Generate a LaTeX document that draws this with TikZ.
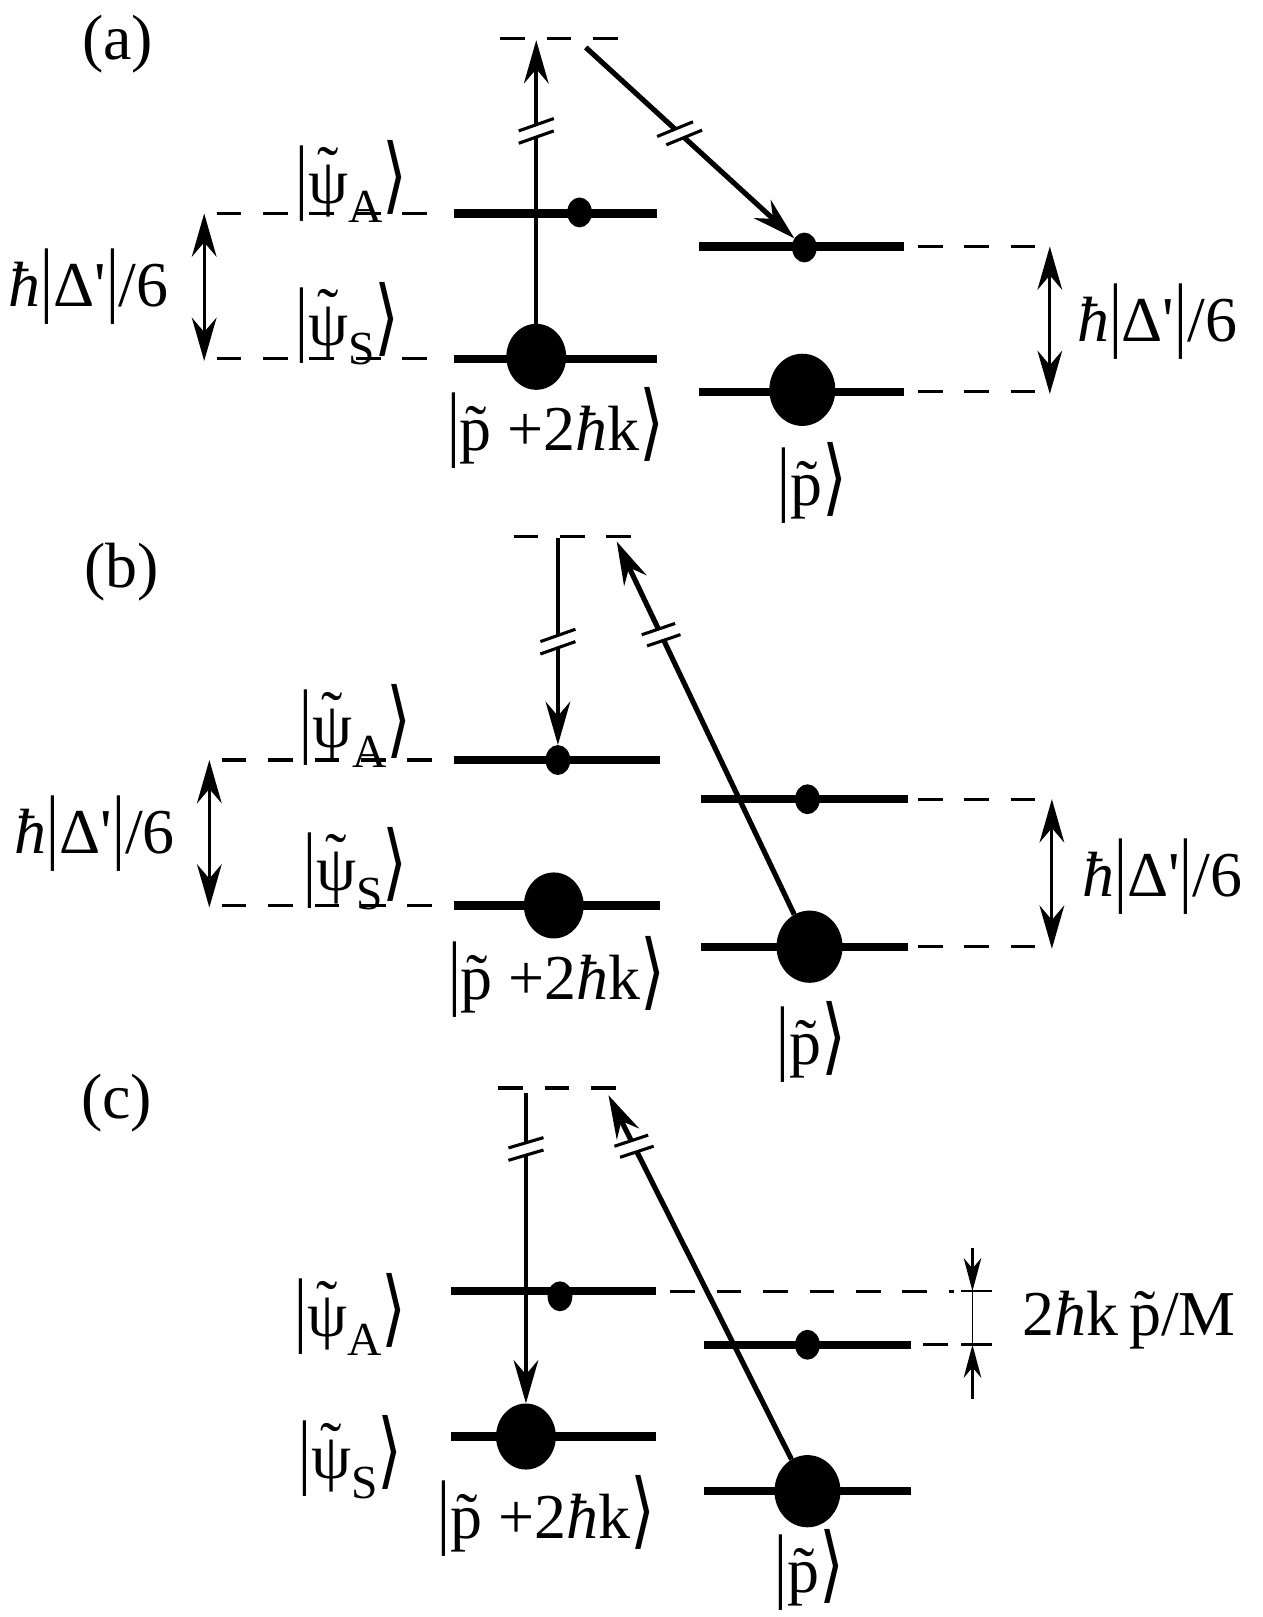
\documentclass[tikz,border=0pt]{standalone}
\usepackage{graphicx}
\usepackage{fontspec}
\setmainfont{Liberation Serif}
\newfontfamily\dvfont{DejaVu Sans}
\usetikzlibrary{arrows.meta,decorations.markings,shapes.geometric}
\newcommand{\tildeover}[2]{\ooalign{#1\cr\hidewidth\raisebox{#2}{˜}\hidewidth\cr}}
\newcommand{\ptil}{p̃}
\newcommand{\psitil}{\tildeover{ψ}{0.2em}}
\newcommand{\hb}{{\itshape ħ}}
\newcommand{\vb}{\scalebox{1}[1.3]{|}}
\newcommand{\rk}{\scalebox{1}[1.3]{\dvfont ⟩}}
\newcommand{\sbs}[1]{\raisebox{-0.3em}{\fontsize{46}{46}\selectfont #1}}
\newcommand{\ketA}{\vb\psitil\sbs{A}\rk}
\newcommand{\ketS}{\vb\psitil\sbs{S}\rk}
\newcommand{\ketPk}{\vb\ptil\ +2\hb k\rk}
\newcommand{\ketP}{\vb\ptil\rk}
\newcommand{\gaplab}{\hb\vb Δ\textquotesingle\vb/6}
\begin{document}
\begin{tikzpicture}[x=1pt,y=-1pt,
  every node/.style={font=\fontsize{62}{66}\selectfont, inner sep=0pt},
  lvl/.style={line width=8pt},
  dsh/.style={line width=3pt, dash pattern=on 24pt off 21pt},
  bigdot/.style={ellipse, fill, minimum width=58pt, minimum height=64pt, inner sep=0pt},
  rbigdot/.style={bigdot, minimum width=64pt, minimum height=70pt},
  smalldot/.style={ellipse, fill, minimum width=24pt, minimum height=29pt, inner sep=0pt},
  bigtip/.tip={Stealth[length=42pt,width=24pt,inset=14pt]},
  varr/.style={line width=3.5pt, -bigtip},
  darr/.style={line width=5pt, -bigtip},
  dbl/.style={line width=3pt, bigtip-bigtip},
  smarr/.style={line width=2.5pt, -{Stealth[length=32pt,width=17pt,inset=10pt]}},
  brk/.style 2 args={postaction={decorate,decoration={markings,mark=at position #1 with {
     \fill[white] ({-6-#2/3},-6) -- ({6-#2/3},-6) -- ({6+#2/3},6) -- ({-6+#2/3},6) -- cycle;
     \draw[-, line width=3pt] ({-6-#2},-17) -- ({-6+#2},17);
     \draw[-, line width=3pt] ({6-#2},-17) -- ({6+#2},17);}}}},
]
\fill[white] (0,0) rectangle (1224,1568);
\useasboundingbox (0,0) rectangle (1224,1568);

% ---------------- panel (a)
\node (la) at (114,43) {(a)};
\coordinate (ta1) at (485,37); \coordinate (ta2) at (600,37);
\draw[dsh] (ta1) -- (ta2);
\draw[lvl] (440,207) -- (637,207);
\draw[lvl] (440,348) -- (637,348);
\draw[lvl] (678,239) -- (877,239);
\draw[lvl] (678,380) -- (877,380);
\draw[dsh] (210,207) -- (430,207);
\draw[dsh] (210,348) -- (430,348);
\draw[dsh] (890,239) -- (1012,239);
\draw[dsh] (890,380) -- (1012,380);
\node[smalldot] (dAa) at (562,206) {};
\node[bigdot] (dSa) at (520,346) {};
\node[smalldot] (rAa) at (780,240) {};
\node[rbigdot] (rSa) at (778,378) {};
\coordinate (va) at (520,39);
\draw[varr, brk={0.68}{6}] (dSa.north) -- (va);
\coordinate (sa) at (568,46);
\draw[darr, brk={0.45}{-8}] (sa) -- (rAa);
\coordinate (gla1) at (198,207); \coordinate (gla2) at (198,350);
\draw[dbl] (gla1) -- (gla2);
\coordinate (gra1) at (1018,239); \coordinate (gra2) at (1018,382);
\draw[dbl] (gra1) -- (gra2);
\node (lga) at (86,278) {\gaplab};
\node (rga) at (1122,312) {\gaplab};
\node (kAa) at (341,176) {\ketA};
\node (kSa) at (337,314) {\ketS};
\node (kPka) at (539,415) {\ketPk};
\node (kPa) at (788,468) {\ketP};

% ---------------- panel (b)
\node (lb) at (118,555) {(b)};
\coordinate (tb1) at (498,520); \coordinate (tb2) at (615,520);
\draw[dsh] (tb1) -- (tb2);
\draw[lvl] (440,737) -- (640,737);
\draw[lvl] (440,878) -- (640,878);
\draw[lvl] (680,775) -- (880,775);
\draw[lvl] (680,918) -- (880,918);
\draw[dsh] (215,737) -- (430,737);
\draw[dsh] (215,878) -- (430,878);
\draw[dsh] (890,775) -- (1015,775);
\draw[dsh] (890,918) -- (1015,918);
\node[smalldot] (dAb) at (541,737) {};
\node[bigdot] (dSb) at (537,878) {};
\node[smalldot] (rAb) at (783,775) {};
\node[rbigdot] (rSb) at (785,918) {};
\coordinate (vb) at (541,522);
\draw[varr, brk={0.5}{6}] (vb) -- (dAb);
\coordinate (sb) at (598,525);
\draw[darr, brk={0.75}{-2}] (rSb) -- (sb);
\coordinate (glb1) at (203,737); \coordinate (glb2) at (203,880);
\draw[dbl] (glb1) -- (glb2);
\coordinate (grb1) at (1020,775); \coordinate (grb2) at (1020,920);
\draw[dbl] (grb1) -- (grb2);
\node (lgb) at (92,808) {\gaplab};
\node (rgb) at (1127,850) {\gaplab};
\node (kAb) at (345,704) {\ketA};
\node (kSb) at (345,842) {\ketS};
\node (kPkb) at (540,947) {\ketPk};
\node (kPb) at (787,1010) {\ketP};

% ---------------- panel (c)
\node (lc) at (113,1070) {(c)};
\coordinate (tc1) at (483,1055); \coordinate (tc2) at (600,1055);
\draw[dsh] (tc1) -- (tc2);
\draw[lvl] (437,1252) -- (636,1252);
\draw[lvl] (437,1393) -- (636,1393);
\draw[lvl] (683,1304) -- (883,1304);
\draw[lvl] (683,1446) -- (883,1446);
\draw[dsh] (650,1252) -- (925,1252);
\draw[dsh] (895,1304) -- (925,1304);
\node[smalldot] (dAc) at (543,1257) {};
\node[bigdot] (dSc) at (510,1393) {};
\node[smalldot] (rAc) at (783,1304) {};
\node[rbigdot] (rSc) at (783,1446) {};
\coordinate (vc) at (510,1060);
\draw[varr, brk={0.18}{5}] (vc) -- (dSc);
\coordinate (sc) at (590,1062);
\draw[darr, brk={0.86}{-2.5}] (rSc) -- (sc);
\coordinate (m0) at (943,1210); \coordinate (m1) at (943,1252);
\coordinate (m2) at (943,1304); \coordinate (m3) at (943,1357);
\draw[smarr] (m0) -- (m1);
\draw[smarr] (m3) -- (m2);
\draw[line width=1pt] (m1) -- (m2);
\draw[line width=2.5pt] (932,1252) -- (962,1252);
\draw[line width=2.5pt] (932,1304) -- (962,1304);
\node (dimc) at (1095,1280) {2\hb k\,\ptil/M};
\node (kAc) at (340,1275) {\ketA};
\node (kSc) at (340,1413) {\ketS};
\node (kPkc) at (530,1470) {\ketPk};
\node (kPc) at (785,1522) {\ketP};
\end{tikzpicture}
\end{document}
